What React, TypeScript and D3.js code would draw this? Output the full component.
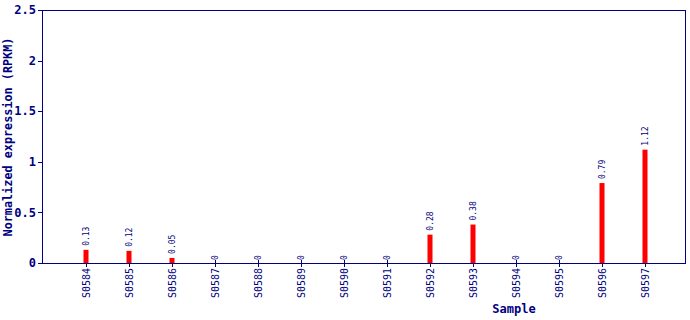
import React from "react";
import * as d3 from "d3";

const samples = ["S0584","S0585","S0586","S0587","S0588","S0589","S0590","S0591","S0592","S0593","S0594","S0595","S0596","S0597"];
const values = [0.13,0.12,0.05,0,0,0,0,0,0.28,0.38,0,0,0.79,1.12];
const valueLabels = ["0.13","0.12","0.05","0","0","0","0","0","0.28","0.38","0","0","0.79","1.12"];
const yTicks = [0,0.5,1,1.5,2,2.5];
const yTickLabels = ["0","0.5","1","1.5","2","2.5"];

const W = 690, H = 320;
const left = 42, right = 686, top = 10, bottom = 263;
const navy = "#000080";
const mono = "'DejaVu Sans Mono', 'Liberation Mono', monospace";

export default function App() {
  const x = d3.scalePoint<string>().domain(samples).range([left + 44, left + 44 + 43 * 13]);
  const y = d3.scaleLinear().domain([0, 2.5]).range([bottom, top]);
  return (
    <svg width={W} height={H} style={{ position: "absolute", left: 0, top: 0 }}>
      <rect x={0} y={0} width={W} height={H} fill="#fff" />
      <rect x={left + 0.5} y={top + 0.5} width={right - left - 1} height={bottom - top} fill="none" stroke={navy} strokeWidth={1} />
      {yTicks.map((t, i) => (
        <g key={t}>
          <line x1={left - 4} x2={left} y1={Math.round(y(t)) + 0.5} y2={Math.round(y(t)) + 0.5} stroke={navy} />
          <text x={left - 6} y={y(t)} dy="0.35em" textAnchor="end" fontFamily={mono} fontWeight="bold" fontSize={12} fill={navy}>{yTickLabels[i]}</text>
        </g>
      ))}
      {samples.map((s, i) => {
        const cx = x(s)!;
        const v = values[i];
        const yt = y(v);
        return (
          <g key={s}>
            <line x1={Math.round(cx) + 0.5} x2={Math.round(cx) + 0.5} y1={bottom} y2={bottom + 4} stroke={navy} />
            {v > 0 ? (
              <rect x={cx - 2.5} y={yt} width={5} height={bottom - yt} fill="#ff0000" />
            ) : (
              <line x1={Math.round(cx) + 0.5} x2={Math.round(cx) + 0.5} y1={bottom} y2={bottom - 3} stroke={navy} />
            )}
            <text transform={`translate(${cx + 3},${yt - (v > 0 ? 4 : 3)}) rotate(-90)`} fontFamily={mono} fontSize={8} fill={navy}>{valueLabels[i]}</text>
            <text transform={`translate(${cx + 4},${bottom + 5}) rotate(-90)`} textAnchor="end" fontFamily={mono} fontSize={10} fill={navy}>{s}</text>
          </g>
        );
      })}
      <text transform={`translate(12,137) rotate(-90)`} textAnchor="middle" fontFamily={mono} fontWeight="bold" fontSize={11.8} fill={navy}>Normalized expression (RPKM)</text>
      <text x={514} y={313} textAnchor="middle" fontFamily={mono} fontWeight="bold" fontSize={12} fill={navy}>Sample</text>
    </svg>
  );
}
